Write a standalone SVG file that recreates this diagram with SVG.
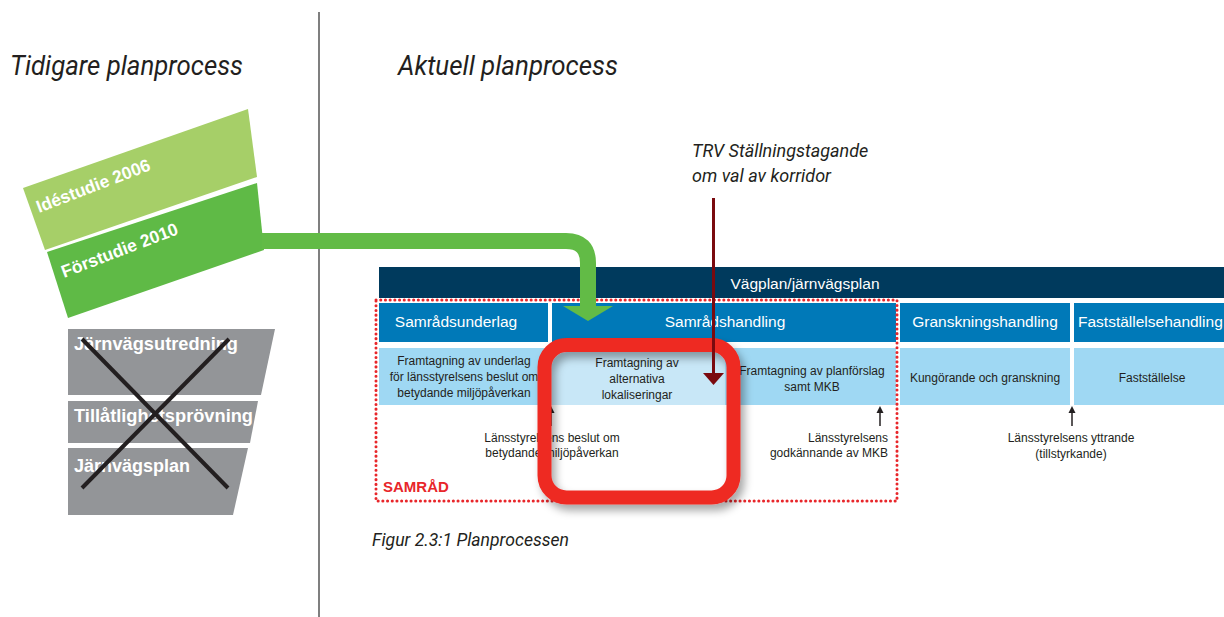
<svg xmlns="http://www.w3.org/2000/svg" width="1224" height="617" viewBox="0 0 1224 617">
<style>
.title{font-family:"Roboto","Liberation Sans",sans-serif;font-style:italic;font-size:27px;fill:#231f20}
.cap{font-family:"Roboto","Liberation Sans",sans-serif;font-style:italic;font-size:18px;fill:#231f20}
.gw{font-family:"Liberation Sans",Arial,sans-serif;font-weight:bold;fill:#fff}
.hd{font-family:"Liberation Sans",Arial,sans-serif;font-size:15.5px;fill:#fff}
.sm{font-family:"Liberation Sans",Arial,sans-serif;font-size:12px;fill:#231f20}
.navy{fill:#003a5d}
.blue{fill:#0079b8}
.lb{fill:#9fd8f3}
.gray{fill:#939598}
.ua{stroke:#231f20;stroke-width:1.5}
.uh{fill:#231f20}
</style>
<defs>
<filter id="sh" x="-20%" y="-20%" width="140%" height="140%">
<feDropShadow dx="4" dy="6" stdDeviation="4" flood-color="#000" flood-opacity="0.35"/>
</filter>
</defs>
<line x1="319" y1="12" x2="319" y2="617" stroke="#555" stroke-width="1.5"/>
<text class="title" x="10" y="75" textLength="233" lengthAdjust="spacingAndGlyphs">Tidigare planprocess</text>
<text class="title" x="398" y="75" textLength="220" lengthAdjust="spacingAndGlyphs">Aktuell planprocess</text>

<g id="idestudie">
<polygon points="23,188 248,109 257,177 45,250" fill="#a6cf68"/>
<text class="gw" font-size="17.5" transform="translate(39,213) rotate(-21)">Idéstudie 2006</text>
</g>
<g id="forstudie">
<polygon points="47,252 257,183 264,250 68,318" fill="#5fba46"/>
<text class="gw" font-size="17.5" transform="translate(64,278) rotate(-21)">Förstudie 2010</text>
</g>
<g id="old-process">
<polygon class="gray" points="68,329 275,329 261,395 68,395"/>
<polygon class="gray" points="68,401 258,401 250,443 68,443"/>
<polygon class="gray" points="68,448 248,448 233,515 68,515"/>
<text class="gw" font-size="18" x="74" y="350" textLength="164" lengthAdjust="spacingAndGlyphs">Järnvägsutredning</text>
<text class="gw" font-size="18" x="74" y="422" textLength="179" lengthAdjust="spacingAndGlyphs">Tillåtlighetsprövning</text>
<text class="gw" font-size="18" x="74" y="472">Järnvägsplan</text>
<line x1="82" y1="339" x2="228" y2="488" stroke="#231f20" stroke-width="4"/>
<line x1="229" y1="339" x2="82" y2="488" stroke="#231f20" stroke-width="4"/>
</g>

<g id="vagplan">
<rect class="navy" x="379" y="267" width="845" height="31"/>
<text class="hd" x="805" y="289" text-anchor="middle">Vägplan/järnvägsplan</text>
</g>
<g id="samradsunderlag">
<rect class="blue" x="379" y="303" width="169" height="39"/>
<text class="hd" x="456" y="327" text-anchor="middle">Samrådsunderlag</text>
<rect class="lb" x="379" y="348" width="171" height="57"/>
<text class="sm" text-anchor="middle"><tspan x="464" y="365">Framtagning av underlag</tspan><tspan x="464" y="381">för länsstyrelsens beslut om</tspan><tspan x="464" y="397">betydande miljöpåverkan</tspan></text>
</g>
<g id="samradshandling">
<rect class="blue" x="552" y="303" width="344" height="39"/>
<text class="hd" x="725" y="327" text-anchor="middle">Samrådshandling</text>
<rect x="550" y="348" width="175" height="57" fill="#c8e7f7"/>
<text class="sm" text-anchor="middle"><tspan x="637" y="367">Framtagning av</tspan><tspan x="637" y="383">alternativa</tspan><tspan x="637" y="399">lokaliseringar</tspan></text>
<rect class="lb" x="725" y="348" width="171" height="57"/>
<text class="sm" text-anchor="middle"><tspan x="812" y="375">Framtagning av planförslag</tspan><tspan x="812" y="391">samt MKB</tspan></text>
</g>
<g id="granskningshandling">
<rect class="blue" x="900" y="303" width="170" height="39"/>
<text class="hd" x="985" y="327" text-anchor="middle">Granskningshandling</text>
<rect class="lb" x="900" y="348" width="170" height="57"/>
<text class="sm" x="985" y="382" text-anchor="middle">Kungörande och granskning</text>
</g>
<g id="faststallelsehandling">
<rect class="blue" x="1074" y="303" width="150" height="39"/>
<text class="hd" x="1078" y="327">Fastställelsehandling</text>
<rect class="lb" x="1074" y="348" width="150" height="57"/>
<text class="sm" x="1152" y="382" text-anchor="middle">Fastställelse</text>
</g>

<g id="beslut">
<text class="sm" text-anchor="middle"><tspan x="552" y="442">Länsstyrelsens beslut om</tspan><tspan x="552" y="457">betydande miljöpåverkan</tspan></text>
</g>
<g id="godkannande">
<text class="sm" text-anchor="end"><tspan x="888" y="442">Länsstyrelsens</tspan><tspan x="888" y="457">godkännande av MKB</tspan></text>
</g>
<g id="yttrande">
<text class="sm" text-anchor="middle"><tspan x="1071" y="442">Länsstyrelsens yttrande</tspan><tspan x="1071" y="458">(tillstyrkande)</tspan></text>
</g>

<g id="samrad">
<rect x="376" y="300" width="521" height="201" fill="none" stroke="#e8262a" stroke-width="3" stroke-dasharray="0.1 4.6" stroke-linecap="round"/>
<text x="383" y="492" font-family="Liberation Sans,Arial,sans-serif" font-weight="bold" font-size="15" fill="#e8262a">SAMRÅD</text>
</g>

<g id="connectors">
<line class="ua" x1="551" y1="426" x2="551" y2="412"/>
<polygon class="uh" points="547.5,413 554.5,413 551,406"/>
<line class="ua" x1="880" y1="426" x2="880" y2="412"/>
<polygon class="uh" points="876.5,413 883.5,413 880,406"/>
<line class="ua" x1="1072" y1="426" x2="1072" y2="412"/>
<polygon class="uh" points="1068.5,413 1075.5,413 1072,406"/>
<path d="M262,241 H566 Q588,241 588,263 V307" fill="none" stroke="#62bb46" stroke-width="16"/>
<polygon points="563,306 613,306 588,321" fill="#62bb46"/>
</g>

<g id="highlight">
<rect x="544.5" y="345" width="189" height="152.5" rx="22" fill="none" stroke="#ee2a24" stroke-width="14" filter="url(#sh)"/>
</g>

<g id="trv">
<text class="cap" font-size="19"><tspan x="692" y="157">TRV Ställningstagande</tspan><tspan x="692" y="182">om val av korridor</tspan></text>
<line x1="713.5" y1="198" x2="713.5" y2="374" stroke="#7a0a0f" stroke-width="3"/>
<polygon points="703,373 724,373 713.5,385" fill="#7a0a0f"/>
</g>

<text class="cap" x="372" y="546" textLength="197" lengthAdjust="spacingAndGlyphs">Figur 2.3:1 Planprocessen</text>
</svg>
